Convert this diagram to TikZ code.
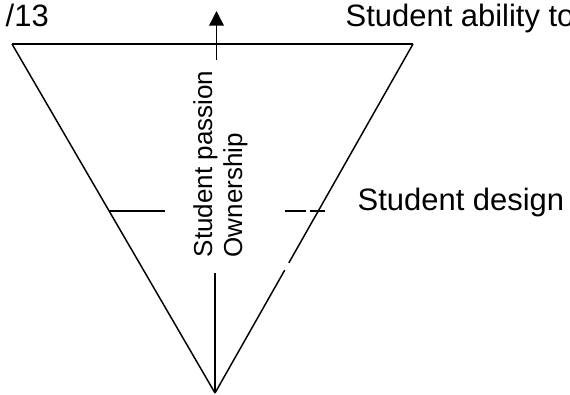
\documentclass[tikz,border=0pt]{standalone}
\usepackage{fontspec}
\setmainfont{Liberation Sans}
\usetikzlibrary{arrows.meta,calc}

\begin{document}
\begin{tikzpicture}[
  x=0.75pt, y=-0.75pt,
  line width=1.1pt,
  lbl/.style={inner sep=0pt, anchor=base west, font=\fontsize{23.2}{27}\selectfont},
  vlbl/.style={inner sep=0pt, anchor=base west, rotate=90, font=\fontsize{19.5}{23}\selectfont},
  arr/.style={-{Triangle[length=11pt,width=11pt]}}
]
\useasboundingbox (0,0) rectangle (570,394);
% corners of the funnel
\coordinate (tl) at (12,44);
\coordinate (tr) at (413,44);
\coordinate (ap) at (215,393);
\coordinate (upfoot) at (216.5,60);
\coordinate (up) at (216.5,11);
\coordinate (stem) at (215,273);
% marks half way down
\coordinate (la) at (109,211);
\coordinate (lb) at (165,211);
\coordinate (ra) at (285,211);
\coordinate (rb) at (306,211);
\coordinate (rc) at (310,211);
\coordinate (rd) at (325,211);

\node[lbl] (num) at (5,26) {/13};
\node[lbl] (ability) at (345,26) {Student ability to};
\node[lbl] (design) at (357,210) {Student design};
\node[vlbl] (passion) at (212,258) {Student passion};
\node[vlbl] (owner) at (242,258) {Ownership};

\draw (tl) -- (tr);
\draw (tl) -- (ap);
\draw (tr) -- ($(tr)!0.627!(ap)$);
\draw ($(tr)!0.648!(ap)$) -- (ap);
\draw (stem) -- (ap);
\draw[arr] (upfoot) -- (up);
\draw (la) -- (lb);
\draw (ra) -- (rb);
\draw (rc) -- (rd);
\end{tikzpicture}
\end{document}
